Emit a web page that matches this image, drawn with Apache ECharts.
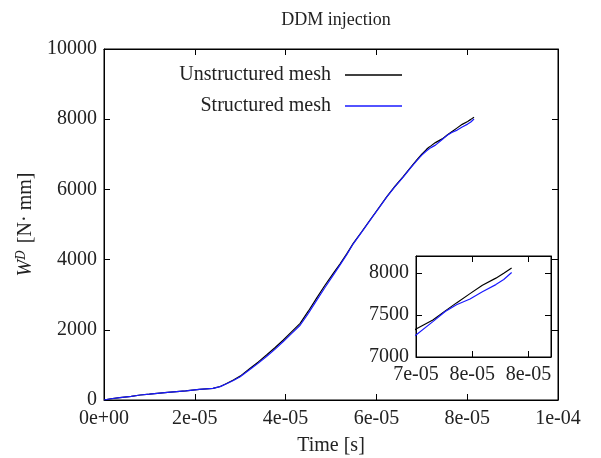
<!DOCTYPE html>
<html>
<head>
<meta charset="utf-8">
<script src="https://cdn.jsdelivr.net/npm/echarts@6/dist/echarts.min.js"></script>
<style>html,body{margin:0;padding:0;background:#fff}#c{width:601px;height:458px}</style>
</head>
<body>
<div id="c"></div>
<script>
const titleText = 'DDM injection';
const seriesNames = ['Unstructured mesh', 'Structured mesh'];
const xTicksMain = [0, 2e-5, 4e-5, 6e-5, 8e-5, 1e-4];
const yTicksMain = [0, 2000, 4000, 6000, 8000, 10000];
const xTicksInset = [7.3e-5, 7.8e-5, 8.3e-5];
const yTicksInset = [7000, 7500, 8000];

const time = [0, 0.15e-5, 0.35e-5, 0.6e-5, 0.8e-5, 1.0e-5, 1.4e-5, 1.8e-5, 2.1e-5, 2.4e-5,
  2.56e-5, 2.7e-5, 2.85e-5, 3.0e-5, 3.22e-5, 3.4e-5, 3.58e-5, 3.77e-5, 3.95e-5, 4.13e-5,
  4.32e-5, 4.5e-5, 4.68e-5, 4.86e-5, 5.05e-5, 5.2e-5, 5.35e-5, 5.49e-5, 5.68e-5, 5.86e-5,
  6.05e-5, 6.23e-5, 6.41e-5, 6.59e-5, 6.75e-5, 6.89e-5, 7.0e-5, 7.1e-5, 7.15e-5, 7.2e-5,
  7.3e-5, 7.45e-5, 7.56e-5, 7.66e-5, 7.78e-5, 7.89e-5, 8.01e-5, 8.08e-5, 8.15e-5];

const unstructured = [0, 35, 66, 105, 142, 165, 215, 260, 304, 333,
  385, 470, 570, 680, 903, 1085, 1282, 1495, 1709, 1940,
  2185, 2530, 2897, 3255, 3610, 3880, 4170, 4464, 4800, 5128,
  5470, 5792, 6090, 6362, 6620, 6838, 7005, 7135, 7195, 7240,
  7333, 7440, 7548, 7643, 7753, 7853, 7937, 7995, 8056];

const structured = [0, 35, 66, 105, 142, 165, 215, 260, 300, 330,
  380, 462, 555, 660, 875, 1050, 1240, 1450, 1665, 1890,
  2130, 2470, 2830, 3190, 3560, 3850, 4150, 4450, 4790, 5120,
  5460, 5785, 6080, 6350, 6605, 6820, 6975, 7095, 7145, 7190,
  7262, 7420, 7540, 7620, 7690, 7775, 7860, 7920, 8004];

function expFmt(v) {
  const s = Number(v).toExponential(0);
  const parts = s.split('e');
  let e = parts[1];
  const sign = e[0];
  let d = e.slice(1);
  if (d.length < 2) d = '0' + d;
  return parts[0] + 'e' + sign + d;
}

const FONT = 'Liberation Serif';
const TXT = '#222';
const labelStyle = {fontFamily: FONT, fontSize: 20, color: TXT};

function pairs(ys) { return time.map((t, i) => [t, ys[i]]); }

function makeFmt(ticks, fn) {
  return function (v) {
    for (const t of ticks) { if (Math.abs(v - t) < Math.abs(t) * 1e-6 + 1e-12) return fn(t); }
    return '';
  };
}
const mainXFmt = makeFmt(xTicksMain, expFmt);
const insetXFmt = makeFmt(xTicksInset, expFmt);
const yFmtMain = makeFmt(yTicksMain, String);
const yFmtInset = makeFmt(yTicksInset, String);

function axisCommon() {
  return {
    axisLine: {show: true, onZero: false, lineStyle: {color: '#000', width: 1}},
    axisTick: {show: true, inside: true, length: 6, lineStyle: {color: '#000'}},
    splitLine: {show: false}
  };
}

const option = {
  animation: false,
  backgroundColor: '#fff',
  title: {
    text: titleText, left: 331, top: 6, textAlign: 'center',
    textStyle: {fontFamily: FONT, fontSize: 18, fontWeight: 'normal', color: TXT}
  },
  legend: [
    {data: [seriesNames[0]], right: 194, top: 60, align: 'right', icon: 'rect',
      itemWidth: 57, itemHeight: 1.5, selectedMode: false,
      textStyle: {fontFamily: FONT, fontSize: 20, color: TXT, padding: [0, 9, 0, 0]}},
    {data: [seriesNames[1]], right: 194, top: 91, align: 'right', icon: 'rect',
      itemWidth: 57, itemHeight: 1.5, selectedMode: false,
      textStyle: {fontFamily: FONT, fontSize: 20, color: TXT, padding: [0, 9, 0, 0]}}
  ],
  grid: [
    {left: 104, top: 49, right: 43, bottom: 58, containLabel: false, outerBoundsMode: 'none',
      show: true, borderColor: '#000', borderWidth: 1, backgroundColor: 'transparent'},
    {left: 416, top: 256, right: 50, bottom: 101, containLabel: false, outerBoundsMode: 'none',
      show: true, backgroundColor: '#fff', borderColor: '#000', borderWidth: 1}
  ],
  xAxis: [
    Object.assign(axisCommon(), {type: 'value', gridIndex: 0, position: 'bottom', min: 0, max: 1e-4, interval: 2e-5,
      axisLabel: Object.assign({formatter: mainXFmt, margin: 9}, labelStyle),
      name: 'Time [s]', nameLocation: 'middle', nameGap: 36,
      nameTextStyle: {fontFamily: FONT, fontSize: 20, color: TXT}}),
    Object.assign(axisCommon(), {type: 'value', gridIndex: 0, position: 'top', min: 0, max: 1e-4, interval: 2e-5,
      axisLabel: {show: false}}),
    Object.assign(axisCommon(), {type: 'value', gridIndex: 1, position: 'bottom', min: 7.3e-5, max: 8.5e-5, interval: 5e-6,
      axisLabel: Object.assign({formatter: insetXFmt, margin: 8, showMaxLabel: false}, labelStyle)}),
    Object.assign(axisCommon(), {type: 'value', gridIndex: 1, position: 'top', min: 7.3e-5, max: 8.5e-5, interval: 5e-6,
      axisLabel: {show: false}})
  ],
  yAxis: [
    Object.assign(axisCommon(), {type: 'value', gridIndex: 0, position: 'left', min: 0, max: 10000, interval: 2000,
      axisLabel: Object.assign({formatter: yFmtMain, margin: 7}, labelStyle),
      name: '{w|W}{d|D} [N· mm]', nameLocation: 'middle', nameGap: 66,
      nameTextStyle: {fontFamily: FONT, fontSize: 20, color: TXT,
        rich: {
          w: {fontFamily: FONT, fontSize: 20, fontStyle: 'italic', color: TXT},
          d: {fontFamily: 'DejaVu Serif', fontSize: 12, fontStyle: 'italic', color: TXT, verticalAlign: 'top', padding: [0, 2, 9, 0]}
        }}}),
    Object.assign(axisCommon(), {type: 'value', gridIndex: 0, position: 'right', min: 0, max: 10000, interval: 2000,
      axisLabel: {show: false}}),
    Object.assign(axisCommon(), {type: 'value', gridIndex: 1, position: 'left', min: 7000, max: 8200, interval: 500,
      axisLabel: Object.assign({formatter: yFmtInset, margin: 7, showMaxLabel: false}, labelStyle)}),
    Object.assign(axisCommon(), {type: 'value', gridIndex: 1, position: 'right', min: 7000, max: 8200, interval: 500,
      axisLabel: {show: false}})
  ],
  series: [
    {name: seriesNames[0], type: 'line', xAxisIndex: 0, yAxisIndex: 0, data: pairs(unstructured),
      symbol: 'none', color: '#000', lineStyle: {color: '#000', width: 1.2}, z: 2},
    {name: seriesNames[1], type: 'line', xAxisIndex: 0, yAxisIndex: 0, data: pairs(structured),
      symbol: 'none', color: '#1a1aff', lineStyle: {color: '#1a1aff', width: 1.2}, z: 3},
    {type: 'line', xAxisIndex: 1, yAxisIndex: 1, data: [], symbol: 'none', silent: true},
    {name: seriesNames[0], type: 'line', xAxisIndex: 2, yAxisIndex: 2, data: pairs(unstructured),
      symbol: 'none', color: '#000', lineStyle: {color: '#000', width: 1.2}, clip: true, z: 4},
    {name: seriesNames[1], type: 'line', xAxisIndex: 2, yAxisIndex: 2, data: pairs(structured),
      symbol: 'none', color: '#1a1aff', lineStyle: {color: '#1a1aff', width: 1.2}, clip: true, z: 5},
    {type: 'line', xAxisIndex: 3, yAxisIndex: 3, data: [], symbol: 'none', silent: true}
  ]
};

const chart = echarts.init(document.getElementById('c'), null, {renderer: 'canvas'});
chart.setOption(option);
</script>
</body>
</html>
